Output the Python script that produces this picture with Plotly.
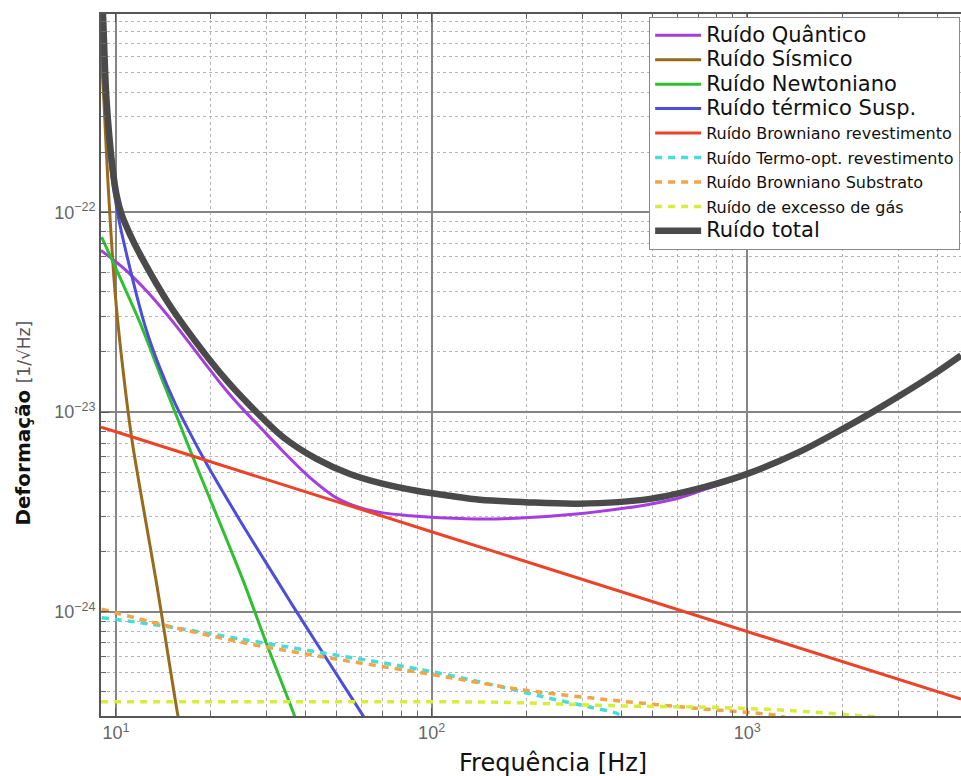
import plotly.graph_objects as go

# ---------------- data ----------------
f_quantum = [8.97, 10.68, 12.81, 15.38, 18.46, 22.14, 25.07, 28.58, 33.81, 41.17, 50.1, 59.3,
             70.1, 85.4, 100, 142.2, 197.5, 292.8, 394.9, 491.5, 611.7, 728.8, 880.8, 1004]
h_quantum = [6.45e-23, 5.18e-23, 3.88e-23, 2.75e-23, 1.89e-23, 1.31e-23, 1.047e-23, 8.42e-24,
             6.37e-24, 4.70e-24, 3.71e-24, 3.32e-24, 3.13e-24, 3.03e-24, 2.98e-24, 2.92e-24,
             2.96e-24, 3.10e-24, 3.28e-24, 3.46e-24, 3.73e-24, 4.09e-24, 4.50e-24, 4.86e-24]

f_seismic = [8.97, 9.16, 9.43, 9.93, 10.45, 11.21, 11.91, 13.46, 15.75, 16.06]
h_seismic = [6.49e-22, 3.64e-22, 1.45e-22, 4.06e-23, 1.81e-23, 7.48e-24, 4.18e-24, 1.38e-24,
             2.98e-25, 2.59e-25]

f_newton = [9.01, 10.30, 11.91, 14.12, 17.37, 25.31, 30.02, 36.9, 37.7]
h_newton = [7.52e-23, 4.72e-23, 2.81e-23, 1.41e-23, 6.17e-24, 1.43e-24, 6.91e-25, 2.98e-25,
            2.65e-25]

f_susp = [9.10, 9.30, 9.57, 10.12, 11.08, 12.36, 13.79, 15.38, 17.16, 19.14, 24.71, 32.28,
          37.36, 47.64, 60.7, 63.8]
h_susp = [6.87e-22, 3.44e-22, 1.82e-22, 9.92e-23, 5.24e-23, 2.71e-23, 1.66e-23, 1.11e-23,
          7.87e-24, 5.71e-24, 2.87e-24, 1.45e-24, 1.0e-24, 5.49e-25, 3.02e-25, 2.68e-25]

f_coat = [8.97, 10, 100, 1000, 4750]
h_coat = [8.4e-24, 7.97e-24, 2.52e-24, 7.98e-25, 3.66e-25]

f_thermo = [9.01, 14.12, 24.71, 45.36, 94.1, 156.4, 250.2, 317.2, 400.0, 409.5]
h_thermo = [9.36e-25, 8.51e-25, 7.32e-25, 6.23e-25, 5.12e-25, 4.31e-25, 3.62e-25, 3.34e-25,
            3.01e-25, 2.68e-25]

f_subst = [9.01, 14.12, 24.71, 45.36, 94.1, 197.5, 394.9, 707.7, 1269, 1467]
h_subst = [1.032e-24, 8.61e-25, 7.07e-25, 5.95e-25, 4.94e-25, 4.06e-25, 3.58e-25, 3.28e-25,
           3.01e-25, 2.78e-25]

f_gas = [8.97, 80, 165, 380, 831, 1401, 2358, 2630]
h_gas = [3.55e-25, 3.55e-25, 3.53e-25, 3.39e-25, 3.32e-25, 3.20e-25, 3.01e-25, 2.98e-25]

f_total = [9.0, 9.10, 9.34, 9.78, 10.07, 10.42, 11.08, 12.06, 14.61, 17.79, 22.42, 27.9, 33.88,
           43.2, 55.1, 70.3, 89.6, 114.3, 142.2, 197.5, 292.8, 491.5, 728.8, 1004, 1467, 2013,
           2505, 3043, 3880, 4750]
h_total = [1.37e-21, 9.83e-22, 3.64e-22, 1.62e-22, 1.20e-22, 9.77e-23, 7.76e-23, 5.95e-23,
           3.54e-23, 2.28e-23, 1.44e-23, 9.98e-24, 7.48e-24, 5.83e-24, 4.90e-24, 4.37e-24,
           4.04e-24, 3.81e-24, 3.64e-24, 3.54e-24, 3.48e-24, 3.68e-24, 4.21e-24, 4.92e-24,
           6.34e-24, 8.27e-24, 1.006e-23, 1.21e-23, 1.54e-23, 1.92e-23]

x_tickvals = [10, 100, 1000]
x_ticktext = ["10<sup>1</sup>", "10<sup>2</sup>", "10<sup>3</sup>"]
y_tickvals = [1e-24, 1e-23, 1e-22]
y_ticktext = ["10<sup>−24</sup>", "10<sup>−23</sup>", "10<sup>−22</sup>"]

# minor grid positions (2..9 within each decade)
x_minor = [m * 10 ** e for e in range(0, 4) for m in range(2, 10)]
y_minor = [m * 10.0 ** e for e in range(-25, -21) for m in range(2, 10)]

# ---------------- figure ----------------
BIG = "<span style='font-size:21px'>{}</span>"
SMALL = "<span style='font-size:16px'>{}</span>"

series = [
    (BIG.format("Ruído Quântico"), f_quantum, h_quantum, "#a63de0", 3, "solid", "spline"),
    (BIG.format("Ruído Sísmico"), f_seismic, h_seismic, "#9a6a1c", 3, "solid", "spline"),
    (BIG.format("Ruído Newtoniano"), f_newton, h_newton, "#2ec02e", 3, "solid", "spline"),
    (BIG.format("Ruído térmico Susp."), f_susp, h_susp, "#4d4ddb", 3, "solid", "spline"),
    (SMALL.format("Ruído Browniano revestimento"), f_coat, h_coat, "#ec4328", 3, "solid", "linear"),
    (SMALL.format("Ruído Termo-opt. revestimento"), f_thermo, h_thermo, "#45dcdc", 3.5, "7px,6px", "spline"),
    (SMALL.format("Ruído Browniano Substrato"), f_subst, h_subst, "#f2a545", 3.5, "7px,6px", "spline"),
    (SMALL.format("Ruído de excesso de gás"), f_gas, h_gas, "#d6ee3a", 3.5, "7px,6px", "spline"),
    (BIG.format("Ruído total"), f_total, h_total, "#4a4a4a", 6.5, "solid", "spline"),
]

fig = go.Figure()
for name, fx, hy, col, w, dash, shape in series:
    fig.add_trace(go.Scatter(
        x=fx, y=hy, name=name, mode="lines",
        line=dict(color=col, width=w, dash=dash, shape=shape,
                  smoothing=0.9 if shape == "spline" else None),
        hoverinfo="skip",
    ))

def axis_style(tickvals, ticktext, minor_vals):
    return dict(
        type="log", showline=True, linecolor="#555", linewidth=1.5,
        ticks="inside", ticklen=8, tickcolor="#555", tickwidth=1,
        showgrid=True, gridcolor="#858585", gridwidth=1.5,
        tickmode="array", tickvals=tickvals, ticktext=ticktext,
        tickfont=dict(family="Liberation Sans", size=18, color="#666"),
        zeroline=False,
        minor=dict(tickmode="array", tickvals=minor_vals, ticks="inside", ticklen=5,
                   tickcolor="#666", showgrid=True, gridcolor="#b5b5b5",
                   griddash="dot", gridwidth=1),
    )

fig.update_xaxes(range=[0.9528, 3.6766], mirror="ticks",
                 **axis_style(x_tickvals, x_ticktext, x_minor))
fig.update_yaxes(range=[-24.521, -21.0075], mirror=False,
                 **axis_style(y_tickvals, y_ticktext, y_minor))

fig.update_layout(
    width=961, height=776,
    margin=dict(l=101, r=0, t=14, b=60),
    paper_bgcolor="white", plot_bgcolor="white",
    showlegend=True,
    legend=dict(
        x=0.999, xanchor="right", y=0.9957, yanchor="top",
        bgcolor="white", bordercolor="#8a8a8a", borderwidth=1,
        font=dict(family="DejaVu Sans", size=16.5, color="#111"),
        tracegroupgap=0, itemwidth=46,
    ),
    annotations=[
        dict(text="Frequência [Hz]", xref="paper", yref="paper", x=0.5256, y=-0.067,
             showarrow=False, xanchor="center", yanchor="middle",
             font=dict(family="DejaVu Sans", size=24, color="#111")),
        dict(text="<b>Deformação</b> <span style='font-size:17px;color:#555'>[1/√Hz]</span>",
             xref="paper", yref="paper", x=-0.0907, y=0.418, textangle=-90,
             showarrow=False, xanchor="center", yanchor="middle",
             font=dict(family="DejaVu Sans", size=20, color="#111")),
    ],
)

fig.write_html("out.html", config={"displayModeBar": False},
               post_script="document.body.style.margin='0px';document.body.style.overflow='hidden';")
